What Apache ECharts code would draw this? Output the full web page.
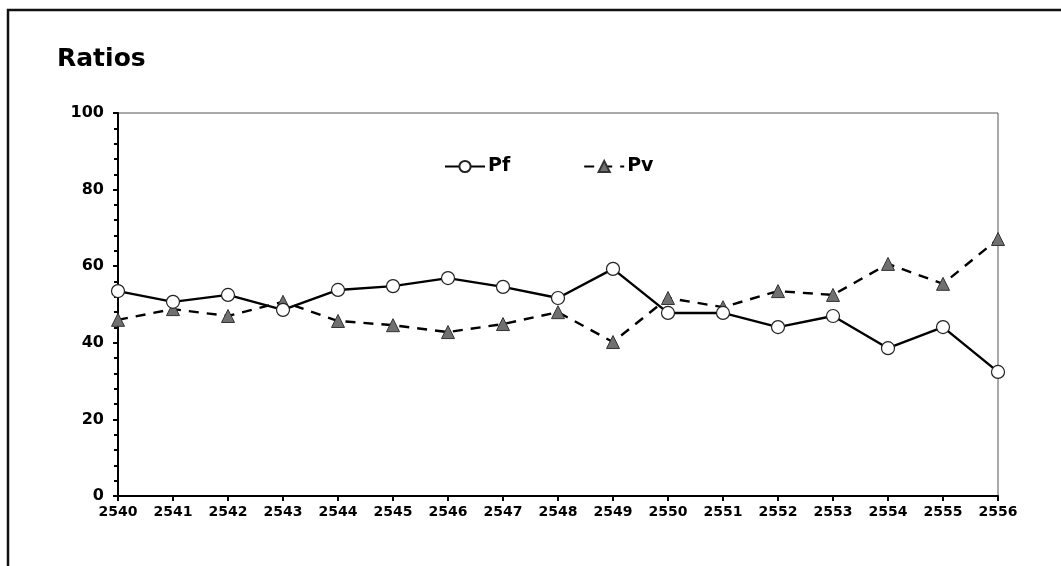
<!DOCTYPE html>
<html>
<head>
<meta charset="utf-8">
<script src="https://cdn.jsdelivr.net/npm/echarts@6/dist/echarts.min.js"></script>
<style>
    html, body { margin: 0; padding: 0; background: #fff; }
    #chart { width: 1061px; height: 566px; }
</style>
</head>
<body>
<div id="chart"></div>
<script>
// data
var years = ['2540', '2541', '2542', '2543', '2544', '2545', '2546', '2547', '2548',
             '2549', '2550', '2551', '2552', '2553', '2554', '2555', '2556'];
var pf = [53.5, 50.7, 52.5, 48.6, 53.8, 54.8, 56.9, 54.6, 51.7,
          59.3, 47.8, 47.8, 44.1, 47.0, 38.6, 44.1, 32.4];
var pv = [46.0, 48.8, 47.0, 50.7, 45.7, 44.6, 42.8, 44.9, 48.0,
          40.2, 51.7, 49.3, 53.5, 52.5, 60.6, 55.4, 67.1];

var dom_ratio = document.getElementById('chart');
var chart_ratio = echarts.init(dom_ratio, null, {renderer: 'canvas'});

var fontName = 'DejaVu Sans';

var option_ratio = {
    animation: false,
    backgroundColor: '#fff',
    title: {
        text: 'Ratios',
        left: 52,
        top: 42,
        textStyle: {
            fontFamily: fontName,
            fontWeight: 'bold',
            fontSize: 25,
            color: '#000'
        }
    },
    // outer frame (only top and left edges are in view)
    graphic: [
        {
            type: 'polyline',
            shape: {points: [[8, 566], [8, 10], [1061, 10]]},
            style: {stroke: '#111', lineWidth: 2.5, fill: null}
        }
    ],
    legend: {
        left: 439,
        top: 152,
        itemWidth: 40,
        itemHeight: 14,
        itemGap: 73,
        data: ['Pf', 'Pv'],
        textStyle: {
            fontFamily: fontName,
            fontWeight: 'bold',
            fontSize: 19,
            color: '#000',
            padding: [0, 0, 0, -2]
        }
    },
    grid: {
        left: 118,
        right: 63,
        top: 113,
        bottom: 70,
        show: true,
        borderColor: '#555',
        borderWidth: 1
    },
    xAxis: {
        type: 'category',
        data: years,
        boundaryGap: false,
        axisLine: {lineStyle: {color: '#000', width: 2}},
        axisTick: {show: true, length: 5, alignWithLabel: true, lineStyle: {color: '#000', width: 2}},
        axisLabel: {
            margin: 9,
            fontFamily: fontName,
            fontWeight: 'bold',
            fontSize: 14,
            color: '#000'
        },
        splitLine: {show: false}
    },
    yAxis: {
        type: 'value',
        min: 0,
        max: 100,
        interval: 20,
        axisLine: {show: true, lineStyle: {color: '#000', width: 2}},
        axisTick: {show: true, length: 5, lineStyle: {color: '#000', width: 2}},
        minorTick: {show: true, splitNumber: 5, length: 4, lineStyle: {color: '#000', width: 2}},
        axisLabel: {
            margin: 14,
            fontFamily: fontName,
            fontWeight: 'bold',
            fontSize: 16,
            color: '#000'
        },
        splitLine: {show: false}
    },
    series: [
        {
            name: 'Pf',
            type: 'line',
            data: pf,
            symbol: 'circle',
            symbolSize: 13,
            lineStyle: {color: '#000', width: 2.4},
            itemStyle: {color: '#fff', borderColor: '#222', borderWidth: 1.2},
            z: 3
        },
        {
            name: 'Pv',
            type: 'line',
            data: pv,
            symbol: 'triangle',
            symbolSize: 13,
            lineStyle: {color: '#000', width: 2.4, type: [10, 8]},
            itemStyle: {color: '#707070', borderColor: '#333', borderWidth: 1},
            z: 2
        }
    ]
};

chart_ratio.setOption(option_ratio);
window.addEventListener('resize', chart_ratio.resize);
</script>
</body>
</html>
